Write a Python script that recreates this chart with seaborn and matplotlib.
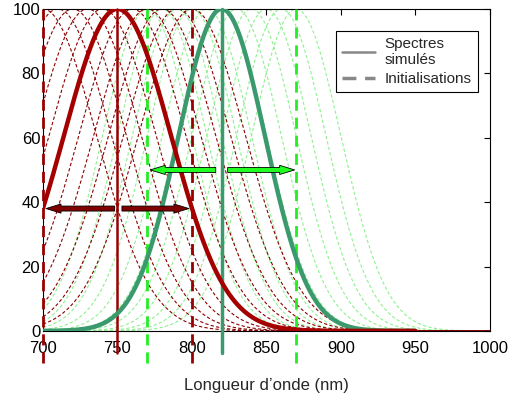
import numpy as np
import pandas as pd
import matplotlib
matplotlib.use("Agg")
import matplotlib.pyplot as plt
import seaborn as sns

sns.set_theme(style="white")
plt.rcParams['font.family'] = ['Liberation Sans', 'DejaVu Sans']

# ---- data ----
red_centers = [700, 710, 720, 730, 740, 750, 760, 770, 780, 790, 800]
green_centers = [770, 780, 790, 800, 810, 820, 830, 840, 850, 860, 870]
red_sigma = 36
green_sigma = 30
green_main_sigma = 29
red_main_center = 750
green_main_center = 820
peak = 100
red_init = [700, 800]
green_init = [770, 870]
red_arrow_y = 38
green_arrow_y = 50
xticks = [700, 750, 800, 850, 900, 950, 1000]
yticks = [0, 20, 40, 60, 80, 100]

x = np.linspace(700, 1000, 601)
x_main = np.linspace(700, 950, 501)

def gauss(xx, c, s):
    return peak * np.exp(-(xx - c) ** 2 / (2 * s ** 2))

fig = plt.figure(figsize=(5.15, 4.07), dpi=100)
ax = fig.add_axes([0.0835, 0.187, 0.8675, 0.791])

dk_red = '#8B0000'
lt_green = '#90f090'
for c in green_centers:
    df = pd.DataFrame({'x': x, 'y': gauss(x, c, green_sigma)})
    sns.lineplot(data=df, x='x', y='y', ax=ax, color=lt_green, lw=0.8,
                 linestyle=(0, (3, 2)), zorder=1)
for c in red_centers:
    df = pd.DataFrame({'x': x, 'y': gauss(x, c, red_sigma)})
    sns.lineplot(data=df, x='x', y='y', ax=ax, color=dk_red, lw=0.8,
                 linestyle=(0, (3, 2)), zorder=2)

# vertical lines
for v in red_init:
    ax.plot([v, v], [-10, 100], color='#990000', lw=2, ls=(0, (4, 2.5)),
            clip_on=False, zorder=3)
for v in green_init:
    ax.plot([v, v], [-10, 100], color='#22ee22', lw=2, ls=(0, (4, 2.5)),
            clip_on=False, zorder=3)
ax.plot([red_main_center] * 2, [-7, 100], color='#990000', lw=1.8,
        clip_on=False, zorder=3)
ax.plot([green_main_center] * 2, [-7, 100], color='#3a9a6e', lw=2.5,
        clip_on=False, zorder=3)

# main curves
sns.lineplot(x=x_main, y=gauss(x_main, green_main_center, green_main_sigma), ax=ax,
             color='#3a9a6e', lw=3.2, zorder=4)
sns.lineplot(x=x_main, y=gauss(x_main, red_main_center, red_sigma), ax=ax,
             color='#a50000', lw=3.2, zorder=5)

# arrows
def arrow(x0, x1, y, fc):
    ax.annotate('', xy=(x1, y), xytext=(x0, y),
                arrowprops=dict(arrowstyle='simple,head_length=0.9,head_width=0.55,tail_width=0.3',
                                fc=fc, ec='black', lw=0.6, shrinkA=0, shrinkB=0),
                zorder=6)
arrow(748, 702, red_arrow_y, '#800000')
arrow(753, 798, red_arrow_y, '#800000')
arrow(816, 772, green_arrow_y, '#22ff22')
arrow(824, 869, green_arrow_y, '#22ff22')

ax.set_xlim(700, 1000)
ax.set_ylim(0, 100)
ax.set_xticks(xticks)
ax.set_yticks(yticks)
ax.tick_params(direction='in', top=True, right=True, length=4, width=0.8,
               labelsize=12, colors='black', pad=2)
ax.tick_params(axis='x', pad=7)
for sp in ax.spines.values():
    sp.set_color('black')
    sp.set_linewidth(0.8)
ax.set_xlabel('Longueur d\u2019onde (nm)', fontsize=12, labelpad=16)
ax.set_ylabel('')

from matplotlib.lines import Line2D
handles = [Line2D([], [], color='#888888', lw=1.8),
           Line2D([], [], color='#888888', lw=2.5, ls=(0, (4, 2.5)))]
leg = ax.legend(handles, ['Spectres\nsimulés', 'Initialisations'],
                loc='upper right', bbox_to_anchor=(0.99, 0.955),
                fontsize=11, fancybox=False, framealpha=1, edgecolor='black',
                handlelength=2.2, borderpad=0.4, labelspacing=0.3,
                handletextpad=0.6)
leg.get_frame().set_linewidth(0.8)
leg.set_zorder(10)

fig.savefig('out.png', dpi=100)
